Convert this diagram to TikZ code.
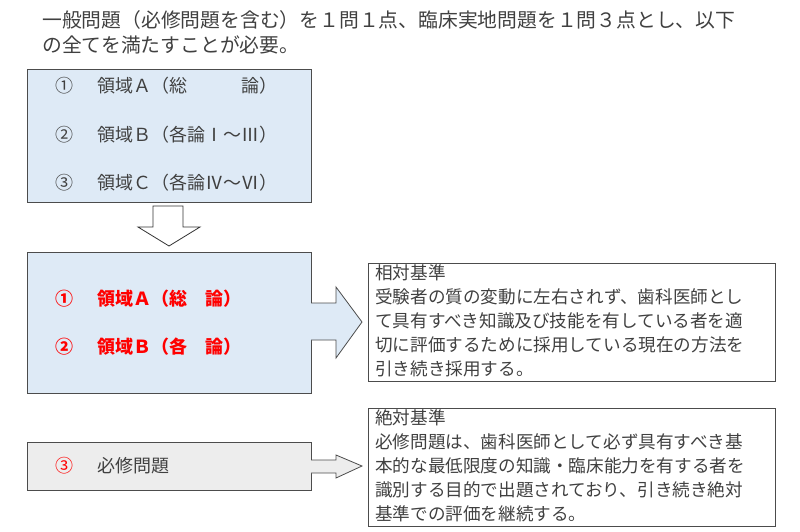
\documentclass[tikz,border=0pt]{standalone}
\usepackage{fontspec}
\setmainfont{Noto Sans CJK JP}
\begin{document}
\begin{tikzpicture}[x=1pt,y=-1pt,
  txt/.style={text=black!75,inner sep=0pt,anchor=west},
  big/.style={font=\fontsize{18}{18}\selectfont},
  red/.style={text=red,font=\fontsize{18}{18}\selectfont\bfseries},
  blk/.style={draw=black!70,line width=0.8pt},
  barrow/.style={draw=black!80,line width=0.8pt,fill=white,line join=miter},
  note/.style={draw=black!70,line width=0.8pt,anchor=north west,inner sep=0pt,minimum width=407pt,minimum height=118pt}]
\useasboundingbox (0,0) rectangle (800,531);
\node[txt,font=\fontsize{19.8}{19.8}\selectfont] (t1) at (42,20) {一般問題（必修問題を含む）を１問１点、臨床実地問題を１問３点とし、以下};
\node[txt,font=\fontsize{19.8}{19.8}\selectfont] (t2) at (42,45) {の全てを満たすことが必要。};
% top box
\path[blk,fill=blue!20!cyan!10!white,fill={rgb,255:red,222;green,234;blue,246}] (27,69) rectangle (311,202);
\node[draw=none] (top) at (169,135) {};
\node[txt,big] (a1) at (55,86) {①};
\node[txt,big] (a1t) at (97,86) {領域Ａ（総　　　論）};
\node[txt,big] (a2) at (55,135) {②};
\node[txt,big] (a2t) at (97,135) {領域Ｂ（各論Ⅰ～Ⅲ）};
\node[txt,big] (a3) at (55,183) {③};
\node[txt,big] (a3t) at (97,183) {領域Ｃ（各論Ⅳ～Ⅵ）};
% down arrow
\draw[barrow] (153,206) -- (183,206) -- (183,227) -- (200,227) -- (169,246) -- (138,227) -- (153,227) -- cycle;
% middle box
\path[blk,fill={rgb,255:red,222;green,234;blue,246}] (27,252) rectangle (311,393);
\node[txt,red] (b1) at (55,299) {①};
\node[txt,red] (b1t) at (97,299) {領域Ａ（総　論）};
\node[txt,red] (b2) at (55,347) {②};
\node[txt,red] (b2t) at (97,347) {領域Ｂ（各　論）};
\draw[blk,fill={rgb,255:red,222;green,234;blue,246},line join=miter] (311,303) -- (336,303) -- (336,287) -- (362,322) -- (336,358) -- (336,340) -- (311,340);
% third box
\path[blk,fill={rgb,255:red,237;green,237;blue,237}] (27,442) rectangle (311,490);
\node[txt,big,text=red] (c1) at (55,466) {③};
\node[txt,big] (c1t) at (97,466) {必修問題};
\draw[blk,fill={rgb,255:red,237;green,237;blue,237},line join=miter] (311,460) -- (336,460) -- (336,455) -- (362,466) -- (336,478) -- (336,473) -- (311,473);
% notes
\node[note] (n1) at (368,263) {};
\node[note] (n2) at (368,408) {};
\begin{scope}[every node/.style={txt,font=\fontsize{17.6}{17.6}\selectfont}]
\node at (375,273) {相対基準};
\node at (375,297) {受験者の質の変動に左右されず、歯科医師とし};
\node at (375,321) {て具有すべき知識及び技能を有している者を適};
\node at (375,345) {切に評価するために採用している現在の方法を};
\node at (375,369) {引き続き採用する。};
\node at (375,418) {絶対基準};
\node at (375,442) {必修問題は、歯科医師として必ず具有すべき基};
\node at (375,466) {本的な最低限度の知識・臨床能力を有する者を};
\node at (375,490) {識別する目的で出題されており、引き続き絶対};
\node at (375,514) {基準での評価を継続する。};
\end{scope}
\end{tikzpicture}
\end{document}
